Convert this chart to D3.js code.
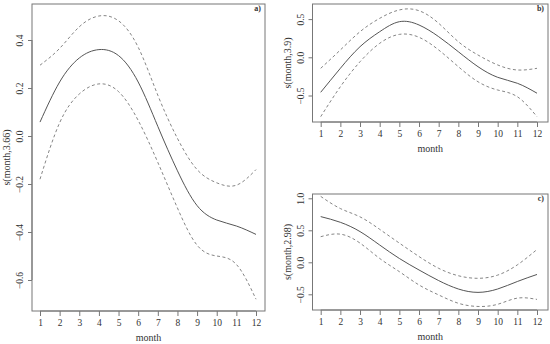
<!DOCTYPE html>
<html>
<head>
<meta charset="utf-8">
<script src="https://cdn.jsdelivr.net/npm/d3@7"></script>
<style>
  body { margin: 0; background: #fff; }
  text { font-family: "Liberation Serif", "DejaVu Serif", serif; fill: #333; }
</style>
</head>
<body>
<div id="my_dataviz"></div>
<script>
var width = 550
var height = 344

var months = [1, 2, 3, 4, 5, 6, 7, 8, 9, 10, 11, 12]

// panel a) s(month,3.66)
var fitA   = [0.058, 0.225, 0.325, 0.36, 0.335, 0.225, 0.04, -0.145, -0.29, -0.35, -0.375, -0.41]
var upperA = [0.295, 0.365, 0.455, 0.50, 0.48, 0.37, 0.17, -0.01, -0.14, -0.195, -0.205, -0.14]
var lowerA = [-0.18, 0.055, 0.175, 0.217, 0.185, 0.065, -0.11, -0.30, -0.455, -0.50, -0.535, -0.68]
var ticksA = [-0.6, -0.4, -0.2, 0.0, 0.2, 0.4]

// panel b) s(month,3.9)
var fitB   = [-0.458, -0.144, 0.139, 0.335, 0.466, 0.423, 0.27, 0.073, -0.123, -0.262, -0.34, -0.47]
var upperB = [-0.144, 0.096, 0.335, 0.51, 0.62, 0.61, 0.445, 0.204, 0.03, -0.10, -0.166, -0.144]
var lowerB = [-0.777, -0.385, -0.058, 0.183, 0.30, 0.262, 0.096, -0.123, -0.32, -0.428, -0.516, -0.777]
var ticksB = [-0.5, 0.0, 0.5]

// panel c) s(month,2.98)
var fitC   = [0.714, 0.625, 0.48, 0.27, 0.06, -0.12, -0.286, -0.417, -0.47, -0.417, -0.30, -0.19]
var upperC = [1.03, 0.84, 0.71, 0.515, 0.30, 0.09, -0.094, -0.21, -0.25, -0.20, -0.04, 0.20]
var lowerC = [0.40, 0.44, 0.30, 0.06, -0.146, -0.354, -0.51, -0.64, -0.69, -0.656, -0.56, -0.58]
var ticksC = [-0.5, 0.0, 0.5, 1.0]

var svg = d3.select("#my_dataviz")
  .append("svg")
    .attr("width", width)
    .attr("height", height)

var panels = [
  { tag: "a)", title: "s(month,3.66)", fit: fitA, upper: upperA, lower: lowerA, ticks: ticksA,
    box: [32, 4, 265, 311], xr: [40, 256], yd: [-0.6, 0.4], yr: [280, 40] },
  { tag: "b)", title: "s(month,3.9)", fit: fitB, upper: upperB, lower: lowerB, ticks: ticksB,
    box: [312.5, 4, 548, 122], xr: [320.7, 537], yd: [-0.5, 0.5], yr: [95.5, 19.1] },
  { tag: "c)", title: "s(month,2.98)", fit: fitC, upper: upperC, lower: lowerC, ticks: ticksC,
    box: [312.5, 194, 548, 310], xr: [320.7, 537], yd: [-0.5, 1.0], yr: [294.3, 198.3] }
]

panels.forEach(function(p) {
  var x = d3.scaleLinear().domain([1, 12]).range(p.xr)
  var y = d3.scaleLinear().domain(p.yd).range(p.yr)
  var g = svg.append("g")
  var b = p.box

  g.append("rect")
    .attr("x", b[0]).attr("y", b[1])
    .attr("width", b[2] - b[0]).attr("height", b[3] - b[1])
    .attr("fill", "none").attr("stroke", "#777").attr("stroke-width", 1)

  // x axis
  var xa = g.append("g")
    .attr("transform", "translate(0," + b[3] + ")")
    .call(d3.axisBottom(x).tickValues(months).tickSize(5).tickPadding(3).tickFormat(d3.format("d")))
  xa.select(".domain").attr("d", "M" + x(1) + ",0H" + x(12)).attr("stroke", "#777")
  xa.selectAll(".tick line").attr("stroke", "#777")
  xa.selectAll("text").style("font-size", "9.5px").attr("fill", "#333")

  // y axis
  var ya = g.append("g")
    .attr("transform", "translate(" + b[0] + ",0)")
    .call(d3.axisLeft(y).tickValues(p.ticks).tickSize(4).tickFormat(d3.format(".1f")))
  ya.select(".domain").attr("d", "M0," + y(p.ticks[0]) + "V" + y(p.ticks[p.ticks.length - 1])).attr("stroke", "#777")
  ya.selectAll(".tick line").attr("stroke", "#777")
  ya.selectAll(".tick text")
    .attr("x", 0).attr("dy", 0)
    .attr("transform", "translate(-9,0) rotate(-90)")
    .attr("text-anchor", "middle")
    .style("font-size", "9.5px").attr("fill", "#333")
    .text(function(d) { return d3.format(".1f")(d).replace("-", "\u2212") })

  g.append("text")
    .attr("x", (b[0] + b[2]) / 2).attr("y", b[3] + 30)
    .attr("text-anchor", "middle").style("font-size", "10px")
    .text("month")

  g.append("text")
    .attr("transform", "translate(" + (b[0] - 22) + "," + ((b[1] + b[3]) / 2) + ") rotate(-90)")
    .attr("text-anchor", "middle").style("font-size", "10px")
    .text(p.title)

  g.append("text")
    .attr("x", b[2] - 4).attr("y", b[1] + 7)
    .attr("text-anchor", "end").style("font-size", "8px").style("font-weight", "bold")
    .attr("fill", "#222")
    .text(p.tag)

  var line = d3.line()
    .x(function(d, i) { return x(months[i]) })
    .y(function(d) { return y(d) })
    .curve(d3.curveNatural)

  g.append("path").datum(p.upper).attr("d", line)
    .attr("fill", "none").attr("stroke", "#777").attr("stroke-width", 0.9).attr("stroke-dasharray", "3,2.5")
  g.append("path").datum(p.lower).attr("d", line)
    .attr("fill", "none").attr("stroke", "#777").attr("stroke-width", 0.9).attr("stroke-dasharray", "3,2.5")
  g.append("path").datum(p.fit).attr("d", line)
    .attr("fill", "none").attr("stroke", "#555").attr("stroke-width", 1)
})
</script>
</body>
</html>
